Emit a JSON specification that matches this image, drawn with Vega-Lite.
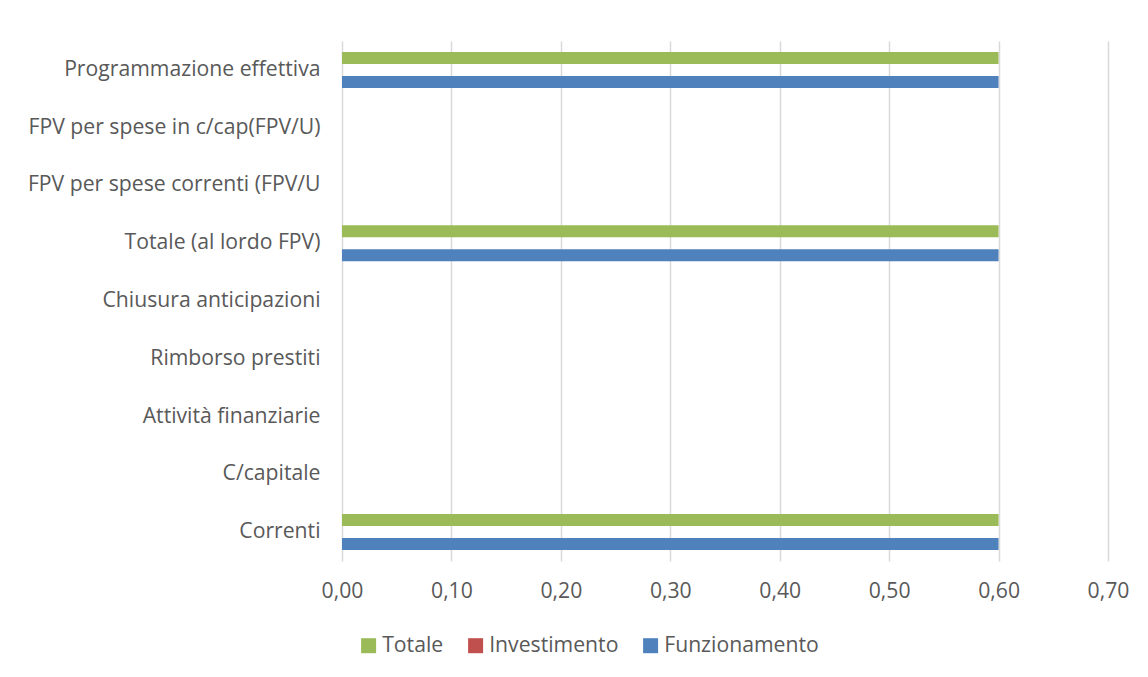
{
  "$schema": "https://vega.github.io/schema/vega-lite/v6.json",
  "autosize": {"type": "none"},
  "padding": {"left": 342, "top": 41, "right": 40, "bottom": 116},
  "width": 766,
  "height": 520,
  "background": "white",
  "config": {
    "font": "Open Sans",
    "view": {"stroke": null}
  },
  "data": {
    "values": [
      {"voce": "Programmazione effettiva", "serie": "Totale", "valore": 0.6},
      {"voce": "Programmazione effettiva", "serie": "Investimento", "valore": 0},
      {"voce": "Programmazione effettiva", "serie": "Funzionamento", "valore": 0.6},
      {"voce": "FPV per spese in c/cap(FPV/U)", "serie": "Totale", "valore": 0},
      {"voce": "FPV per spese in c/cap(FPV/U)", "serie": "Investimento", "valore": 0},
      {"voce": "FPV per spese in c/cap(FPV/U)", "serie": "Funzionamento", "valore": 0},
      {"voce": "FPV per spese correnti (FPV/U", "serie": "Totale", "valore": 0},
      {"voce": "FPV per spese correnti (FPV/U", "serie": "Investimento", "valore": 0},
      {"voce": "FPV per spese correnti (FPV/U", "serie": "Funzionamento", "valore": 0},
      {"voce": "Totale (al lordo FPV)", "serie": "Totale", "valore": 0.6},
      {"voce": "Totale (al lordo FPV)", "serie": "Investimento", "valore": 0},
      {"voce": "Totale (al lordo FPV)", "serie": "Funzionamento", "valore": 0.6},
      {"voce": "Chiusura anticipazioni", "serie": "Totale", "valore": 0},
      {"voce": "Chiusura anticipazioni", "serie": "Investimento", "valore": 0},
      {"voce": "Chiusura anticipazioni", "serie": "Funzionamento", "valore": 0},
      {"voce": "Rimborso prestiti", "serie": "Totale", "valore": 0},
      {"voce": "Rimborso prestiti", "serie": "Investimento", "valore": 0},
      {"voce": "Rimborso prestiti", "serie": "Funzionamento", "valore": 0},
      {"voce": "Attività finanziarie", "serie": "Totale", "valore": 0},
      {"voce": "Attività finanziarie", "serie": "Investimento", "valore": 0},
      {"voce": "Attività finanziarie", "serie": "Funzionamento", "valore": 0},
      {"voce": "C/capitale", "serie": "Totale", "valore": 0},
      {"voce": "C/capitale", "serie": "Investimento", "valore": 0},
      {"voce": "C/capitale", "serie": "Funzionamento", "valore": 0},
      {"voce": "Correnti", "serie": "Totale", "valore": 0.6},
      {"voce": "Correnti", "serie": "Investimento", "valore": 0},
      {"voce": "Correnti", "serie": "Funzionamento", "valore": 0.6}
    ]
  },
  "mark": {"type": "bar", "strokeWidth": 0},
  "encoding": {
    "y": {
      "field": "voce",
      "type": "nominal",
      "sort": null,
      "scale": {"paddingInner": 0.377, "paddingOuter": 0.1885},
      "axis": {
        "title": null,
        "domain": false,
        "ticks": false,
        "grid": false,
        "labelPadding": 22,
        "labelFontSize": 21.2,
        "labelColor": "#595959",
        "labelLimit": 400
      }
    },
    "yOffset": {
      "field": "serie",
      "type": "nominal",
      "sort": ["Totale", "Investimento", "Funzionamento"],
      "scale": {"paddingInner": 0, "paddingOuter": 0}
    },
    "x": {
      "field": "valore",
      "type": "quantitative",
      "scale": {"domain": [0, 0.7], "nice": false, "zero": true},
      "axis": {
        "title": null,
        "domain": false,
        "ticks": false,
        "grid": true,
        "gridColor": "#D9D9D9",
        "gridWidth": 1.5,
        "values": [0, 0.1, 0.2, 0.3, 0.4, 0.5, 0.6, 0.7],
        "labelExpr": "replace(format(datum.value, '.2f'), '.', ',')",
        "labelPadding": 19,
        "labelFontSize": 21.2,
        "labelColor": "#595959",
        "labelFlush": false
      }
    },
    "color": {
      "field": "serie",
      "type": "nominal",
      "sort": ["Totale", "Investimento", "Funzionamento"],
      "scale": {
        "domain": ["Totale", "Investimento", "Funzionamento"],
        "range": ["#9BBB59", "#C0504D", "#4F81BD"]
      },
      "legend": {
        "title": null,
        "orient": "none",
        "direction": "horizontal",
        "legendX": 16,
        "legendY": 594,
        "symbolType": "square",
        "symbolSize": 225,
        "symbolStrokeWidth": 0,
        "symbolOpacity": 1,
        "labelFontSize": 21.2,
        "labelColor": "#595959",
        "labelOffset": 3,
        "columnPadding": 21,
        "labelLimit": 300
      }
    }
  }
}
